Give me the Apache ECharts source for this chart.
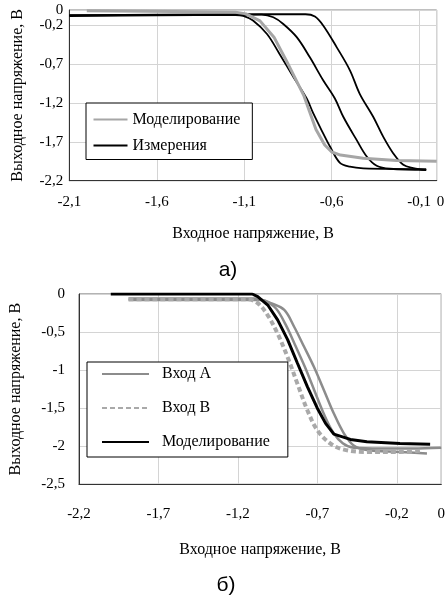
<!DOCTYPE html>
<html>
<head>
<meta charset="utf-8">
<script src="https://cdn.jsdelivr.net/npm/echarts@6/dist/echarts.min.js"></script>
<style>
  body { margin: 0; background: #fff; }
  #chartA { width: 448px; height: 280px; }
  #chartB { width: 448px; height: 316px; }
</style>
</head>
<body>
<div id="chartA"></div>
<div id="chartB"></div>
<script>
// ---- данные графика а) ----
const aXTicks = [-2.1, -1.6, -1.1, -0.6, -0.1, 0]
const aYTicks = [-2.2, -1.7, -1.2, -0.7, -0.2, 0]
// моделирование (серая)
const aModel = [[-2.0, -0.01], [-1.5, -0.02], [-1.15, -0.03], [-1.09, -0.05], [-1.01, -0.14],
  [-0.93, -0.35], [-0.86, -0.65], [-0.80, -0.92], [-0.76, -1.10], [-0.73, -1.29], [-0.69, -1.54],
  [-0.64, -1.74], [-0.60, -1.83], [-0.55, -1.87], [-0.42, -1.91], [-0.23, -1.94], [0, -1.95]]
// измерения (три чёрные кривые)
const aMeas1 = [[-2.1, -0.08], [-1.6, -0.07], [-1.15, -0.065], [-1.106, -0.075], [-1.05, -0.136],
  [-0.97, -0.31], [-0.90, -0.56], [-0.82, -0.86], [-0.743, -1.14], [-0.706, -1.33], [-0.649, -1.59],
  [-0.61, -1.76], [-0.553, -1.97], [-0.496, -2.02], [-0.42, -2.04], [-0.06, -2.05]]
const aMeas2 = [[-2.1, -0.07], [-1.6, -0.065], [-1.0, -0.06], [-0.934, -0.094], [-0.877, -0.18],
  [-0.80, -0.35], [-0.725, -0.61], [-0.649, -0.905], [-0.582, -1.14], [-0.534, -1.376],
  [-0.458, -1.674], [-0.40, -1.888], [-0.343, -2.008], [-0.267, -2.046], [-0.06, -2.06]]
const aMeas3 = [[-2.1, -0.065], [-1.6, -0.06], [-1.0, -0.055], [-0.75, -0.055], [-0.696, -0.085],
  [-0.649, -0.2], [-0.572, -0.478], [-0.496, -0.777], [-0.44, -1.08], [-0.363, -1.376],
  [-0.306, -1.632], [-0.249, -1.845], [-0.191, -1.995], [-0.134, -2.037], [-0.06, -2.065]]

// ---- данные графика б) ----
const bXTicks = [-2.2, -1.7, -1.2, -0.7, -0.2, 0.08]
const bYTicks = [-2.5, -2, -1.5, -1, -0.5, 0]
const bInputA1 = [[-1.888, -0.08], [-1.054, -0.08], [-0.992, -0.12], [-0.908, -0.21], [-0.846, -0.43],
  [-0.784, -0.69], [-0.721, -0.96], [-0.659, -1.26], [-0.596, -1.57], [-0.533, -1.83],
  [-0.471, -1.99], [-0.388, -2.05], [-0.18, -2.075], [-0.01, -2.096]]
const bInputA2 = [[-1.888, -0.06], [-1.1, -0.06], [-1.03, -0.09], [-0.96, -0.19], [-0.9, -0.4],
  [-0.84, -0.67], [-0.78, -0.95], [-0.72, -1.26], [-0.66, -1.57], [-0.6, -1.82], [-0.54, -1.96],
  [-0.47, -2.02], [-0.3, -2.03], [-0.1, -2.03], [0.08, -2.02]]
const bInputB = [[-1.888, -0.07], [-1.14, -0.07], [-1.075, -0.12], [-1.012, -0.28], [-0.95, -0.52],
  [-0.887, -0.83], [-0.825, -1.18], [-0.762, -1.53], [-0.70, -1.79], [-0.617, -1.965],
  [-0.533, -2.044], [-0.388, -2.075], [-0.18, -2.075], [-0.05, -2.06]]
const bModel = [[-2.0, 0], [-1.11, 0], [-1.075, -0.035], [-1.012, -0.145], [-0.95, -0.34],
  [-0.887, -0.6], [-0.825, -0.91], [-0.762, -1.22], [-0.70, -1.5], [-0.648, -1.70],
  [-0.596, -1.84], [-0.492, -1.91], [-0.388, -1.94], [-0.18, -1.965], [0.01, -1.975]]

const serif = 'Liberation Serif'
// подпись с запятой вместо точки
const fmt = v => String(v).replace('.', ',')

// общая ось, чтобы не повторять одно и то же
function axis(min, max, ticks, margin, name, gap, formatter) {
  return {
    type: 'value', min: min, max: max,
    name: name, nameLocation: 'middle', nameGap: gap,
    nameTextStyle: { fontFamily: serif, fontSize: 16, color: '#000' },
    axisLine: { show: true, onZero: false, lineStyle: { color: '#333' } },
    axisTick: { show: false, customValues: ticks },
    axisLabel: { customValues: ticks, margin: margin, formatter: formatter || fmt,
      fontFamily: serif, fontSize: 15, color: '#000' },
    splitLine: { show: true, lineStyle: { color: '#d4d4d4' } }
  }
}

function line(name, data, color, width, type, smooth) {
  return {
    type: 'line', name: name, data: data, symbol: 'none', smooth: smooth,
    lineStyle: { color: color, width: width, type: type || 'solid' },
    itemStyle: { color: color }
  }
}

const legendText = { fontFamily: serif, fontSize: 16, lineHeight: 16, color: '#000' }

// ---- а) ----
const optionA = {
  animation: false,
  grid: { left: 69.3, top: 10, width: 367.4, height: 170.7, show: true, borderColor: '#808080' },
  xAxis: axis(-2.1, 0, aXTicks, 14, 'Входное напряжение, В', 45),
  yAxis: axis(-2.2, 0, aYTicks, 6, 'Выходное напряжение, В', 44),
  legend: {
    orient: 'vertical', left: 86, top: 103, padding: [8.5, 12, 6, 6.5], itemGap: 10,
    itemWidth: 34, itemHeight: 14, data: ['Моделирование', 'Измерения'],
    itemStyle: { opacity: 0 },
    borderColor: '#000', borderWidth: 1, backgroundColor: '#fff', textStyle: legendText
  },
  graphic: [{ type: 'text', x: 228, y: 270,
    style: { text: 'а)', fill: '#000', font: '21px "Liberation Sans"', align: 'center', verticalAlign: 'middle' } }],
  series: [
    line('Измерения', aMeas1, '#000', 1.8, 'solid', 0.35),
    line('Измерения', aMeas2, '#000', 1.8, 'solid', 0.35),
    line('Измерения', aMeas3, '#000', 1.8, 'solid', 0.35),
    line('Моделирование', aModel, '#a6a6a6', 3, 'solid', false)
  ]
}
optionA.xAxis.axisLabel.alignMaxLabel = 'left'

// ---- б) ----
const optionB = {
  animation: false,
  grid: { left: 76.7, top: 14, width: 365.6, height: 190.3, show: true, borderColor: '#666' },
  xAxis: axis(-2.2, 0.08, bXTicks, 22, 'Входное напряжение, В', 57, v => v > 0 ? '0' : fmt(v)),
  yAxis: axis(-2.5, 0, bYTicks, 14, 'Выходное напряжение, В', 55),
  legend: {
    orient: 'vertical', left: 87, top: 82, padding: [4, 18, 7, 14], itemGap: 18,
    itemWidth: 47, itemHeight: 14, data: ['Вход A', 'Вход B', 'Моделирование'],
    itemStyle: { opacity: 0 },
    borderColor: '#000', borderWidth: 1, backgroundColor: '#fff',
    textStyle: Object.assign({ padding: [0, 0, 0, 8] }, legendText)
  },
  graphic: [{ type: 'text', x: 226, y: 305,
    style: { text: 'б)', fill: '#000', font: '21px "Liberation Sans"', align: 'center', verticalAlign: 'middle' } }],
  series: [
    line('Вход A', bInputA1, '#8c8c8c', 2.5, 'solid', 0.35),
    line('Вход A', bInputA2, '#8c8c8c', 2.5, 'solid', 0.35),
    line('Вход B', bInputB, '#a9a9a9', 4, [5, 3], 0.35),
    line('Моделирование', bModel, '#000', 3, 'solid', false)
  ]
}

echarts.init(document.getElementById('chartA')).setOption(optionA)
echarts.init(document.getElementById('chartB')).setOption(optionB)
</script>
</body>
</html>
